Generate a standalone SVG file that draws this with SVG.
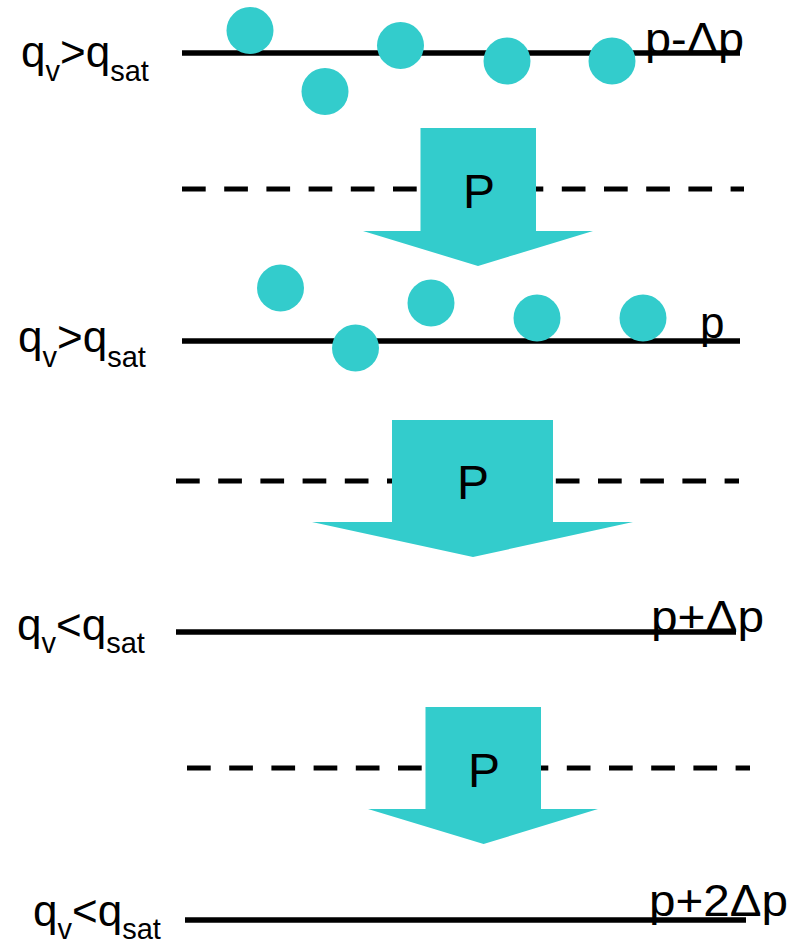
<svg xmlns="http://www.w3.org/2000/svg" width="798" height="942" viewBox="0 0 798 942">
<style>
.lvl{stroke:#000;stroke-width:5.5;fill:none}
.dash{stroke:#000;stroke-width:5;fill:none;stroke-dasharray:23.7 18.5}
.drop{fill:#33CCCC}
.arr{fill:#33CCCC}
.t{font-family:"Liberation Sans",Arial,sans-serif;fill:#000}
.m{font-size:44px}
.s{font-size:29px}
.r{font-size:44px}
.P{font-size:48px;text-anchor:middle}
</style>
<rect width="798" height="942" fill="#fff"/>
<g id="levels">
<line class="lvl" x1="182" y1="53" x2="740" y2="53"/>
<line class="lvl" x1="182" y1="341" x2="740" y2="341"/>
<line class="lvl" x1="176" y1="632" x2="736" y2="632"/>
<line class="lvl" x1="185" y1="920" x2="746" y2="920"/>
</g>
<g id="dashed">
<line class="dash" x1="182" y1="189" x2="744" y2="189"/>
<line class="dash" x1="176" y1="481" x2="739" y2="481"/>
<line class="dash" x1="187" y1="768" x2="750" y2="768"/>
</g>
<g id="droplets-top">
<circle class="drop" cx="250" cy="30.5" r="23.5"/>
<circle class="drop" cx="325" cy="91.5" r="23.5"/>
<circle class="drop" cx="400.5" cy="45.5" r="23.5"/>
<circle class="drop" cx="507" cy="61" r="23.5"/>
<circle class="drop" cx="612" cy="61" r="23.5"/>
</g>
<g id="droplets-middle">
<circle class="drop" cx="280.5" cy="288" r="23.5"/>
<circle class="drop" cx="355.5" cy="348" r="23.5"/>
<circle class="drop" cx="431" cy="303" r="23.5"/>
<circle class="drop" cx="537" cy="318" r="23.5"/>
<circle class="drop" cx="643" cy="318" r="23.5"/>
</g>
<g id="connectors">
<g id="arrow1">
<polygon class="arr" points="420.5,128 536,128 536,231 593,231 478,266 363,231 420.5,231"/>
<text class="t P" x="479" y="208">P</text>
</g>
<g id="arrow2">
<polygon class="arr" points="392,420 553,420 553,522 633,522 473,557 312,522 392,522"/>
<text class="t P" x="473" y="499">P</text>
</g>
<g id="arrow3">
<polygon class="arr" points="425.5,707 541,707 541,809 598,809 483.6,844 368,809 425.5,809"/>
<text class="t P" x="484" y="787">P</text>
</g>
</g>
<g id="label-left-1">
<text class="t m" x="21" y="67">q<tspan class="s" dy="14">v</tspan><tspan dy="-14">&gt;q</tspan><tspan class="s" dy="14">sat</tspan></text>
</g>
<g id="label-left-2">
<text class="t m" x="18" y="352">q<tspan class="s" dy="15">v</tspan><tspan dy="-15">&gt;q</tspan><tspan class="s" dy="15">sat</tspan></text>
</g>
<g id="label-left-3">
<text class="t m" x="17" y="640">q<tspan class="s" dy="13">v</tspan><tspan dy="-13">&lt;q</tspan><tspan class="s" dy="13">sat</tspan></text>
</g>
<g id="label-left-4">
<text class="t m" x="33" y="926">q<tspan class="s" dy="13">v</tspan><tspan dy="-13">&lt;q</tspan><tspan class="s" dy="13">sat</tspan></text>
</g>
<g id="label-right">
<text class="t r" x="645" y="54" textLength="99" lengthAdjust="spacingAndGlyphs">p-Δp</text>
<text class="t r" x="700" y="338">p</text>
<text class="t r" x="651" y="632" textLength="113" lengthAdjust="spacingAndGlyphs">p+Δp</text>
<text class="t r" x="649" y="916" textLength="139" lengthAdjust="spacingAndGlyphs">p+2Δp</text>
</g>
</svg>
